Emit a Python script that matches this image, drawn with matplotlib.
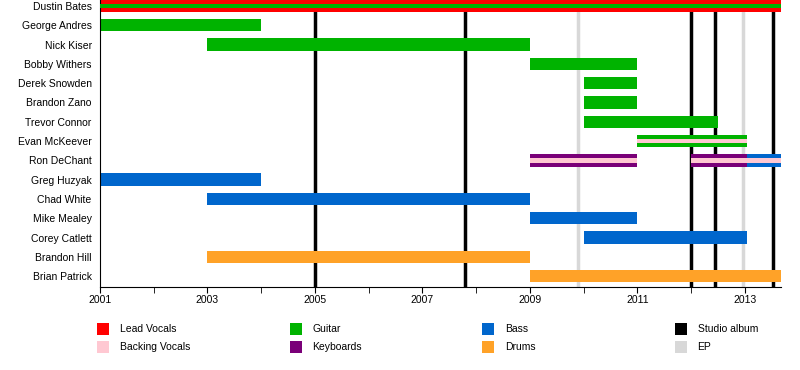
import matplotlib.pyplot as plt
from matplotlib.patches import Rectangle

plt.rcParams['font.family'] = ['Liberation Sans', 'DejaVu Sans']

END = 2013.67

members = ['Dustin Bates', 'George Andres', 'Nick Kiser', 'Bobby Withers', 'Derek Snowden',
           'Brandon Zano', 'Trevor Connor', 'Evan McKeever', 'Ron DeChant', 'Greg Huzyak',
           'Chad White', 'Mike Mealey', 'Corey Catlett', 'Brandon Hill', 'Brian Patrick']

# (member, start, end, role)
spans = [
    ('Dustin Bates', 2001, END, 'Lead Vocals'),
    ('George Andres', 2001, 2004, 'Guitar'),
    ('Nick Kiser', 2003, 2009, 'Guitar'),
    ('Bobby Withers', 2009, 2011, 'Guitar'),
    ('Derek Snowden', 2010, 2011, 'Guitar'),
    ('Brandon Zano', 2010, 2011, 'Guitar'),
    ('Trevor Connor', 2010, 2012.5, 'Guitar'),
    ('Evan McKeever', 2011, 2013.05, 'Guitar'),
    ('Ron DeChant', 2009, 2011, 'Keyboards'),
    ('Ron DeChant', 2012, 2013.05, 'Keyboards'),
    ('Ron DeChant', 2013.05, END, 'Bass'),
    ('Greg Huzyak', 2001, 2004, 'Bass'),
    ('Chad White', 2003, 2009, 'Bass'),
    ('Mike Mealey', 2009, 2011, 'Bass'),
    ('Corey Catlett', 2010, 2013.05, 'Bass'),
    ('Brandon Hill', 2003, 2009, 'Drums'),
    ('Brian Patrick', 2009, END, 'Drums'),
]

# secondary roles drawn as a thin stripe
stripes = [
    ('Dustin Bates', 2001, END, 'Guitar'),
    ('Evan McKeever', 2011, 2013.05, 'Backing Vocals'),
    ('Ron DeChant', 2009, 2011, 'Backing Vocals'),
    ('Ron DeChant', 2012, END, 'Backing Vocals'),
]

studio_albums = [2005.0, 2007.79, 2012.0, 2012.44, 2013.52]
eps = [2009.89, 2012.96]

colors = {
    'Lead Vocals': '#ff0000',
    'Backing Vocals': '#ffc8d2',
    'Guitar': '#00b300',
    'Keyboards': '#7a0078',
    'Bass': '#0066cc',
    'Drums': '#ffa228',
    'Studio album': '#000000',
    'EP': '#d8d8d8',
}
legend_order = ['Lead Vocals', 'Backing Vocals', 'Guitar', 'Keyboards',
                'Bass', 'Drums', 'Studio album', 'EP']

fig = plt.figure(figsize=(8, 3.7), dpi=100)
ax = fig.add_axes([0.125, 0.224, 0.851, 0.776])

row = {m: i for i, m in enumerate(members)}

for x in studio_albums:
    ax.axvline(x, color=colors['Studio album'], lw=2.5, zorder=1)
for x in eps:
    ax.axvline(x, color=colors['EP'], lw=2.5, zorder=1)

for m, s, e, r in spans:
    ax.barh(row[m], e - s, left=s, height=0.64, color=colors[r], zorder=2)
for m, s, e, r in stripes:
    ax.barh(row[m], e - s, left=s, height=0.23, color=colors[r], zorder=3)

ax.set_xlim(2001, END)
ax.set_ylim(14.57, -0.31)
ax.set_yticks(range(len(members)))
ax.set_yticklabels(members, fontsize=7.5)
ax.tick_params(axis='y', length=0, pad=6)
ax.set_xticks(range(2001, 2014, 2))
ax.set_xticks(range(2001, 2014), minor=True)
ax.tick_params(axis='x', which='both', length=4, labelsize=7.5, pad=1.5)
ax.spines['top'].set_visible(False)
ax.spines['right'].set_visible(False)

# legend: 4 columns x 2 rows, laid out in pixels
W, H = 800, 370
for i, k in enumerate(legend_order):
    col, r = divmod(i, 2)
    x0 = 97 + col * 192.5
    yc = 329 + r * 18
    fig.add_artist(Rectangle((x0 / W, (H - yc - 6) / H), 12 / W, 12 / H,
                             facecolor=colors[k], edgecolor='none',
                             transform=fig.transFigure))
    fig.text((x0 + 23) / W, (H - yc) / H, k, fontsize=7.5, va='center', ha='left')

fig.savefig('out.png', dpi=100)
